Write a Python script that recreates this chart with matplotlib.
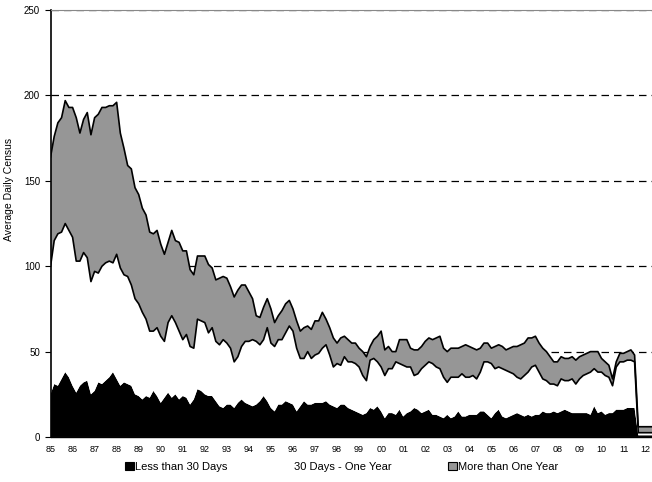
import numpy as np
import matplotlib
matplotlib.use("Agg")
from matplotlib import pyplot as plt
from matplotlib.patches import Patch

plt.rcParams['font.family'] = ['Liberation Sans', 'DejaVu Sans']

# bimonthly readings, Jan 1985 onward (6 values per year)
less_30 = [
    25, 31, 30, 34, 38, 35,   # 85
    30, 26, 30, 32, 33, 25,   # 86
    27, 32, 31, 33, 35, 38,   # 87
    34, 30, 32, 31, 30, 25,   # 88
    24, 22, 24, 23, 27, 24,   # 89
    20, 23, 26, 23, 25, 22,   # 90
    24, 23, 19, 22, 28, 27,   # 91
    25, 24, 24, 21, 18, 17,   # 92
    19, 19, 17, 20, 22, 20,   # 93
    19, 18, 19, 21, 24, 21,   # 94
    17, 15, 19, 19, 21, 20,   # 95
    19, 15, 18, 21, 19, 19,   # 96
    20, 20, 20, 21, 19, 18,   # 97
    17, 19, 19, 17, 16, 15,   # 98
    14, 13, 14, 17, 16, 18,   # 99
    15, 11, 14, 14, 13, 16,   # 00
    12, 14, 15, 17, 16, 14,   # 01
    15, 16, 13, 13, 12, 11,   # 02
    13, 11, 12, 15, 12, 12,   # 03
    13, 13, 13, 15, 15, 13,   # 04
    11, 14, 16, 12, 11, 12,   # 05
    13, 14, 13, 12, 13, 12,   # 06
    13, 13, 15, 14, 14, 15,   # 07
    14, 15, 16, 15, 14, 14,   # 08
    14, 14, 14, 13, 18, 14,   # 09
    15, 13, 14, 14, 16, 16,   # 10
    16, 17, 17, 17, 1, 1,     # 11
    1, 1, 1,                  # 12
]
days30_1yr = [
    75, 84, 89, 86, 87, 86,
    87, 77, 73, 76, 72, 66,
    70, 64, 69, 69, 68, 64,
    73, 69, 63, 63, 59, 56,
    54, 51, 45, 39, 35, 40,
    39, 33, 41, 48, 42, 40,
    33, 37, 34, 30, 41, 41,
    42, 37, 40, 35, 36, 40,
    36, 33, 27, 27, 31, 36,
    37, 39, 37, 33, 33, 43,
    38, 38, 38, 38, 40, 45,
    43, 37, 28, 25, 31, 27,
    28, 29, 32, 33, 29, 23,
    26, 23, 28, 27, 28, 28,
    27, 23, 19, 28, 30, 26,
    26, 25, 26, 26, 31, 27,
    30, 27, 26, 19, 21, 26,
    27, 28, 30, 28, 28, 24,
    19, 24, 23, 20, 25, 23,
    22, 23, 21, 23, 29, 31,
    32, 26, 25, 28, 28, 26,
    24, 21, 21, 24, 25, 29,
    29, 25, 19, 19, 17, 16,
    16, 19, 17, 18, 20, 17,
    20, 22, 23, 25, 22, 24,
    23, 23, 21, 16, 25, 28,
    28, 28, 28, 27, 1.5, 1.5,
    1.5, 1.5, 1.5,
]
over_1yr = [
    64, 61, 65, 67, 72, 72,
    76, 84, 75, 78, 85, 86,
    90, 93, 93, 91, 91, 92,
    89, 79, 74, 65, 68, 65,
    64, 61, 61, 58, 57, 57,
    54, 51, 47, 50, 48, 52,
    52, 49, 45, 43, 37, 38,
    39, 40, 35, 36, 39, 37,
    38, 36, 38, 39, 36, 33,
    29, 24, 15, 16, 19, 17,
    20, 14, 14, 17, 17, 15,
    13, 16, 16, 18, 15, 17,
    20, 19, 21, 15, 16, 17,
    12, 16, 12, 13, 11, 12,
    11, 14, 14, 8, 11, 15,
    21, 15, 13, 10, 6, 14,
    15, 16, 11, 15, 14, 13,
    14, 14, 14, 17, 19, 17,
    18, 17, 17, 17, 16, 19,
    18, 16, 17, 14, 11, 11,
    9, 13, 13, 13, 12, 14,
    16, 18, 20, 19, 20, 17,
    17, 17, 18, 17, 16, 13,
    14, 13, 13, 13, 13, 14,
    13, 12, 12, 12, 10, 12,
    8, 8, 7, 4, 3, 5,
    5, 5, 6, 4, 3.5, 3.5,
    3.5, 3.5, 3.5,
]
series_names = ['Less than 30 Days', '30 Days - One Year', 'More than One Year']
year_labels = ['85', '86', '87', '88', '89', '90', '91', '92', '93', '94', '95',
               '96', '97', '98', '99', '00', '01', '02', '03', '04', '05', '06',
               '07', '08', '09', '10', '11', '12']

t = 1985 + np.arange(len(less_30)) / 6.0
b = np.array(less_30, float)
m = np.array(days30_1yr, float)
o = np.array(over_1yr, float)

fig = plt.figure(figsize=(6.52, 4.82), dpi=100)
ax = fig.add_axes([0.0775, 0.0934, 1.0 - 0.0775, 0.979 - 0.0934])

colores = ['black', 'white', '#969696']
ax.stackplot(t, b, m, o, colors=colores, zorder=2, linewidth=0)
# contornos de las dos curvas superiores
ax.plot(t, b + m, color='black', lw=1.2, zorder=3)
ax.plot(t, b + m + o, color='black', lw=1.2, zorder=3)

# grilla discontinua detras de las areas
for yv in [50, 100, 150, 200, 250]:
    ax.axhline(yv, color='black', lw=0.9, linestyle=(0, (6, 4)), zorder=1)

ax.set_xlim(1985, 2012.29)
ax.set_ylim(0, 250)
ax.set_yticks(np.arange(0, 251, 50))
ax.set_xticks(np.arange(1985, 2013))
ax.set_xticklabels(year_labels)
ax.tick_params(axis='x', length=0, labelsize=6.5, pad=6)
ax.tick_params(axis='y', length=4, labelsize=7, width=0.8)

ax.spines['top'].set_color('#888888')
ax.spines['right'].set_visible(False)
ax.spines['left'].set_linewidth(1.2)
ax.spines['bottom'].set_linewidth(1.0)

ax.set_ylabel('Average Daily Census', fontsize=7.5)
ax.yaxis.set_label_coords(-0.06, 0.58)

handles = [Patch(facecolor='black', edgecolor='black', lw=0.8),
           Patch(facecolor='white', edgecolor='white', lw=0),
           Patch(facecolor='#969696', edgecolor='black', lw=0.8)]
fig.legend(handles, series_names, loc='lower center', bbox_to_anchor=(0.524, 0.0),
           ncol=3, frameon=False, fontsize=8, handlelength=0.8, handleheight=0.8,
           handletextpad=0.1, columnspacing=5.1)

fig.savefig('out.png', dpi=100)
